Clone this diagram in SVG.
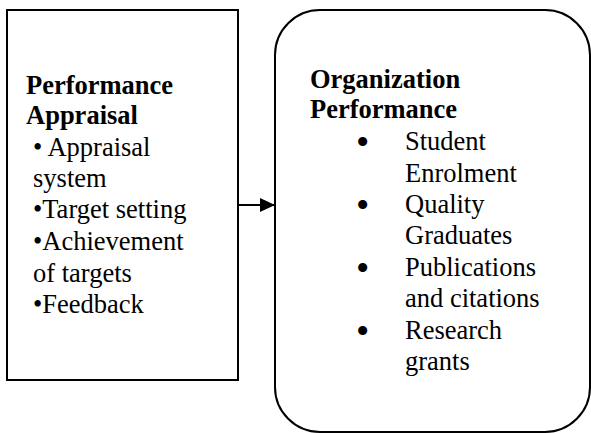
<svg xmlns="http://www.w3.org/2000/svg" width="591" height="433" viewBox="0 0 591 433">
<defs>
<style>
.box{fill:#fff;stroke:#000;stroke-width:2}
.t{font-family:'Liberation Serif',serif;font-size:26.5px;fill:#000}
.b{font-weight:bold}
.bl{font-size:38px}
.conn{stroke:#000;stroke-width:2;fill:none}
</style>
<marker id="ah" markerWidth="15" markerHeight="14" refX="15" refY="7" orient="auto" markerUnits="userSpaceOnUse">
<path d="M0,0 L15,7 L0,14 Z" fill="#000"/>
</marker>
</defs>
<rect width="591" height="433" fill="#fff"/>
<g id="node-appraisal">
<rect class="box" x="7" y="10" width="231" height="370"/>
<text class="t b" x="26" y="94">Performance</text>
<text class="t b" x="26" y="124">Appraisal</text>
<text class="t" x="33" y="156">• Appraisal</text>
<text class="t" x="33" y="187">system</text>
<text class="t" x="33" y="218">•Target setting</text>
<text class="t" x="33" y="250">•Achievement</text>
<text class="t" x="33" y="282">of targets</text>
<text class="t" x="33" y="313">•Feedback</text>
</g>
<g id="node-organization">
<rect class="box" x="275" y="10" width="315" height="422" rx="45" ry="45"/>
<text class="t b" x="310" y="88">Organization</text>
<text class="t b" x="310" y="118">Performance</text>
<text class="t bl" x="356" y="155">•</text>
<text class="t" x="405" y="150">Student</text>
<text class="t" x="405" y="182">Enrolment</text>
<text class="t bl" x="356" y="218">•</text>
<text class="t" x="405" y="213">Quality</text>
<text class="t" x="405" y="244">Graduates</text>
<text class="t bl" x="356" y="281">•</text>
<text class="t" x="405" y="276">Publications</text>
<text class="t" x="405" y="307">and citations</text>
<text class="t bl" x="356" y="344">•</text>
<text class="t" x="405" y="339">Research</text>
<text class="t" x="405" y="370">grants</text>
</g>
<g id="connectors">
<line class="conn" x1="238" y1="205" x2="275" y2="205" marker-end="url(#ah)"/>
</g>
</svg>
